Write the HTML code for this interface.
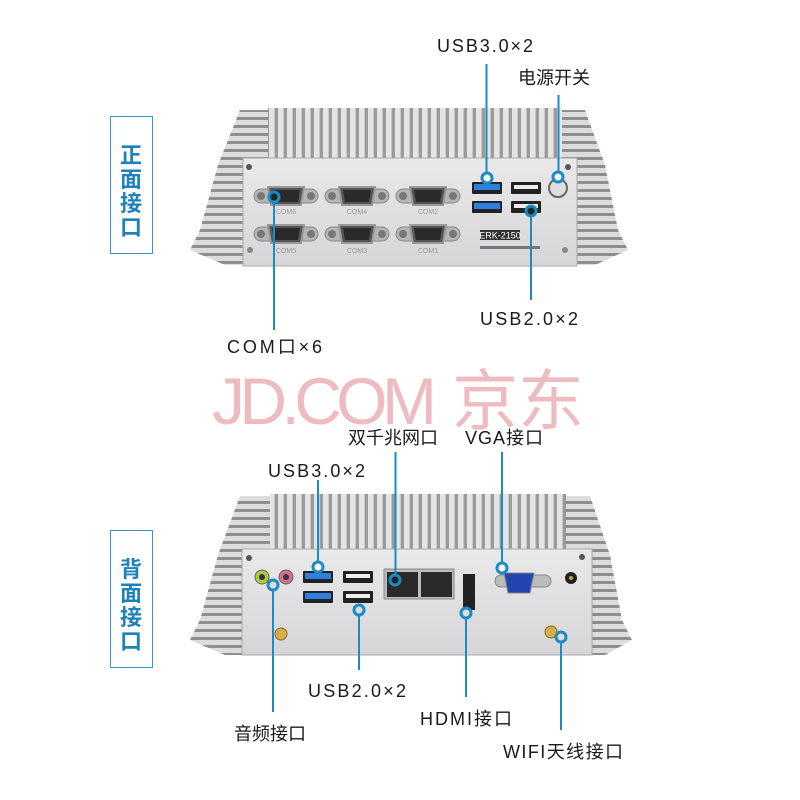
<!DOCTYPE html>
<html><head><meta charset="utf-8"><style>
html,body{margin:0;padding:0;background:#fff;width:800px;height:800px;overflow:hidden}
svg text{font-family:"Liberation Sans","Noto Sans CJK SC",sans-serif}
</style></head><body>
<svg width="800" height="800" viewBox="0 0 800 800" xmlns="http://www.w3.org/2000/svg">
<defs>
<pattern id="fin" x="0" y="0" width="9" height="10" patternUnits="userSpaceOnUse">
<rect width="9" height="10" fill="#e4e4e4"/><rect x="5" width="3" height="10" fill="#9a9a9a"/><rect x="4" width="1" height="10" fill="#c8c8c8"/>
</pattern>
<pattern id="sfin" x="0" y="0" width="10" height="8" patternUnits="userSpaceOnUse">
<rect width="10" height="8" fill="#dcdcdc"/><rect y="5" width="10" height="3" fill="#8e8e8e"/>
</pattern>
<linearGradient id="pan" x1="0" y1="0" x2="0" y2="1"><stop offset="0" stop-color="#e9e9ea"/><stop offset="1" stop-color="#d6d6d8"/></linearGradient>
<g id="db9">
<rect x="-32" y="-7" width="64" height="14" rx="7" fill="#b5b5b5" stroke="#888"/>
<circle cx="-25" cy="0" r="4" fill="#777"/><circle cx="25" cy="0" r="4" fill="#777"/>
<path d="M-18,-9 L18,-9 L15,9 L-15,9 Z" fill="#555" stroke="#999" stroke-width="2"/>
<path d="M-14,-6 L14,-6 L12,6 L-12,6 Z" fill="#2a2a2a"/>
</g>
<g id="usb3"><rect x="-15" y="-6" width="30" height="12" rx="1" fill="#222"/><rect x="-13" y="-4" width="26" height="6" fill="#2f7fe0"/></g>
<g id="usb2"><rect x="-15" y="-6" width="30" height="12" rx="1" fill="#222"/><rect x="-12" y="-3" width="24" height="4" fill="#eee"/></g>
</defs>

<rect x="110.5" y="116.5" width="42" height="137" fill="none" stroke="#3a93c6" stroke-width="1"/>
<g fill="#1d82b8" font-size="22" font-weight="bold" text-anchor="middle">
<text x="131" y="163">正</text><text x="131" y="187">面</text><text x="131" y="211">接</text><text x="131" y="235">口</text>
</g>
<rect x="110.5" y="530.5" width="42" height="137" fill="none" stroke="#3a93c6" stroke-width="1"/>
<g fill="#1d82b8" font-size="22" font-weight="bold" text-anchor="middle">
<text x="131" y="577">背</text><text x="131" y="601">面</text><text x="131" y="625">接</text><text x="131" y="649">口</text>
</g>

<path d="M218,165 L240,110 L270,110 L270,160 L243,160 L243,265 L225,265 L190,250 L200,230 Z" fill="url(#sfin)"/>
<path d="M605,165 L585,110 L560,110 L560,160 L577,160 L577,265 L595,265 L628,250 L618,230 Z" fill="url(#sfin)"/>
<rect x="268" y="108" width="294" height="52" fill="url(#fin)"/>
<rect x="243" y="158" width="334" height="108" fill="url(#pan)" stroke="#aaa"/>
<circle cx="249" cy="167" r="3" fill="#555"/><circle cx="568" cy="167" r="3" fill="#555"/>
<circle cx="250" cy="250" r="3" fill="#888"/><circle cx="565" cy="250" r="3" fill="#888"/>
<use href="#db9" x="286" y="196"/><use href="#db9" x="357" y="196"/><use href="#db9" x="428" y="196"/>
<use href="#db9" x="286" y="234"/><use href="#db9" x="357" y="234"/><use href="#db9" x="428" y="234"/>
<g fill="#999" font-size="7" text-anchor="middle"><text x="286" y="214">COM6</text><text x="357" y="214">COM4</text><text x="428" y="214">COM2</text><text x="286" y="253">COM5</text><text x="357" y="253">COM3</text><text x="428" y="253">COM1</text></g>
<use href="#usb3" x="487" y="188"/><use href="#usb3" x="487" y="207"/>
<use href="#usb2" x="526" y="188"/><use href="#usb2" x="526" y="207"/>
<circle cx="558" cy="188" r="9" fill="#ddd" stroke="#666" stroke-width="2"/>
<rect x="480" y="230" width="40" height="10" fill="#333"/><text x="500" y="238.5" fill="#fff" font-size="9" text-anchor="middle">ERK-2150</text>
<rect x="480" y="246" width="60" height="3" fill="#777"/>

<g stroke="#1a8bc4" stroke-width="2" fill="none">
<line x1="486.5" y1="64" x2="486.5" y2="175"/><circle cx="487" cy="178" r="5" stroke-width="3" fill="#fff"/>
<line x1="558.5" y1="95" x2="558.5" y2="175"/><circle cx="558" cy="177" r="5" stroke-width="3" fill="#fff"/>
<line x1="274" y1="196" x2="274" y2="330"/><circle cx="274" cy="197" r="5" stroke-width="3" fill="#222"/>
<line x1="531" y1="213" x2="531" y2="300"/><circle cx="531" cy="211" r="5" stroke-width="3" fill="#222"/>
</g>
<g fill="#1a1a1a" font-size="18">
<text x="437" y="52" textLength="96">USB3.0×2</text>
<text x="518" y="84">电源开关</text>
<text x="227" y="353" textLength="95">COM口×6</text>
<text x="480" y="325" textLength="98">USB2.0×2</text>
</g>

<text x="212" y="424" fill="#eebcc0" font-size="66" textLength="225">JD.COM</text>
<text x="452" y="424" fill="#eebcc0" font-size="66">京东</text>

<path d="M218,555 L240,496 L270,496 L270,550 L243,550 L243,655 L225,655 L190,640 L200,620 Z" fill="url(#sfin)"/>
<path d="M610,555 L590,496 L565,496 L565,550 L592,550 L592,655 L605,655 L632,640 L622,620 Z" fill="url(#sfin)"/>
<rect x="270" y="494" width="296" height="56" fill="url(#fin)"/>
<rect x="242" y="549" width="350" height="106" fill="url(#pan)" stroke="#aaa"/>
<circle cx="249" cy="558" r="3" fill="#555"/><circle cx="582" cy="557" r="3" fill="#555"/>
<circle cx="262" cy="577" r="7" fill="#aacb3a" stroke="#666"/><circle cx="262" cy="577" r="3" fill="#333"/>
<circle cx="286" cy="577" r="7" fill="#d86a9a" stroke="#666"/><circle cx="286" cy="577" r="3" fill="#333"/>
<use href="#usb3" x="318" y="577"/><use href="#usb3" x="318" y="597"/>
<use href="#usb2" x="358" y="577"/><use href="#usb2" x="358" y="597"/>
<rect x="384" y="569" width="70" height="30" fill="#bbb" stroke="#888"/>
<rect x="387" y="572" width="31" height="25" fill="#2a2a2a"/><rect x="421" y="572" width="31" height="25" fill="#2a2a2a"/>
<path d="M463,574 L475,574 L475,610 L463,610 Z" fill="#222"/>
<rect x="495" y="575" width="56" height="12" rx="6" fill="#bbb" stroke="#888"/>
<path d="M504,573 L534,573 L530,593 L508,593 Z" fill="#2245b0" stroke="#888"/>
<circle cx="571" cy="578" r="6" fill="#222"/><circle cx="571" cy="578" r="2" fill="#c9a43c"/>
<circle cx="281" cy="634" r="6" fill="#d4b04a" stroke="#8a6a20"/>
<circle cx="551" cy="632" r="6" fill="#d4b04a" stroke="#8a6a20"/>

<g stroke="#1a8bc4" stroke-width="2" fill="none">
<line x1="318" y1="480" x2="318" y2="562"/><circle cx="318" cy="567" r="5" stroke-width="3" fill="#fff"/>
<line x1="395.5" y1="452" x2="395.5" y2="576"/><circle cx="395" cy="580" r="5" stroke-width="3" fill="#222"/>
<line x1="502" y1="452" x2="502" y2="562"/><circle cx="502" cy="568" r="5" stroke-width="3" fill="#fff"/>
<line x1="273" y1="590" x2="273" y2="712"/><circle cx="273" cy="585" r="5" stroke-width="3" fill="#ddd"/>
<line x1="359" y1="614" x2="359" y2="670"/><circle cx="359" cy="610" r="5" stroke-width="3" fill="#ddd"/>
<line x1="466" y1="618" x2="466" y2="697"/><circle cx="466" cy="613" r="5" stroke-width="3" fill="#ddd"/>
<line x1="561" y1="642" x2="561" y2="730"/><circle cx="561" cy="637" r="5" stroke-width="3" fill="#ddd"/>
</g>
<g fill="#1a1a1a" font-size="18">
<text x="348" y="444">双千兆网口</text>
<text x="465" y="444" textLength="78">VGA接口</text>
<text x="268" y="477" textLength="97">USB3.0×2</text>
<text x="308" y="697" textLength="98">USB2.0×2</text>
<text x="420" y="725" textLength="92">HDMI接口</text>
<text x="234" y="740">音频接口</text>
<text x="503" y="758" textLength="120">WIFI天线接口</text>
</g>
</svg>
</body></html>
